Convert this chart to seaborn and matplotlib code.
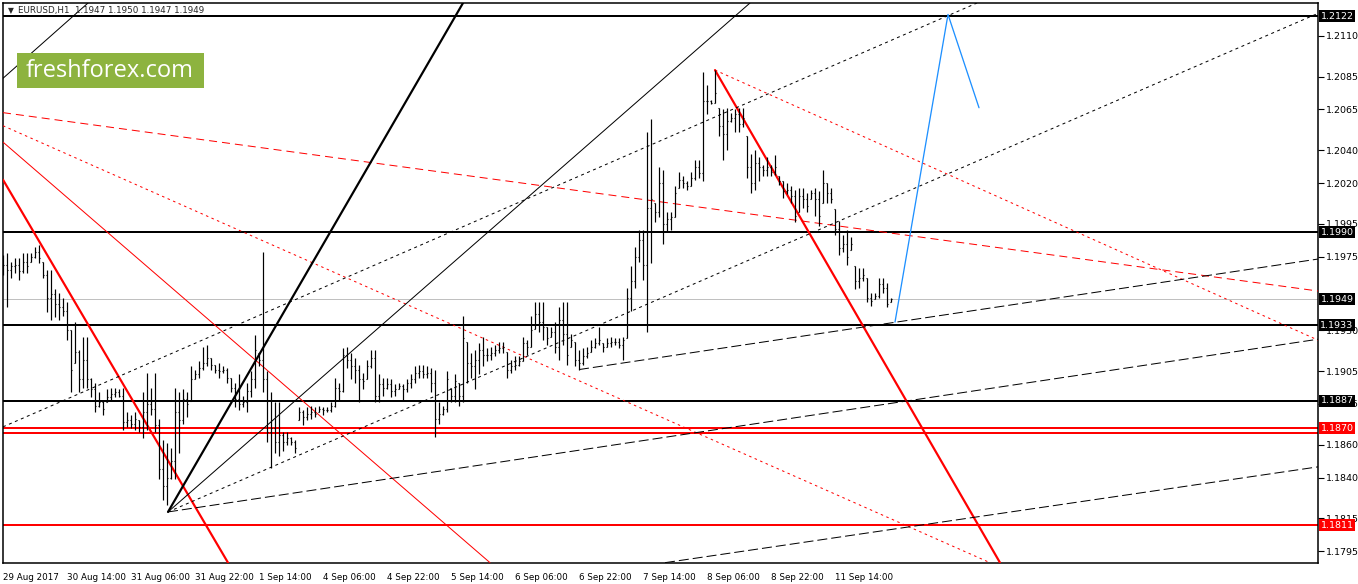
import numpy as np
import matplotlib
matplotlib.use('Agg')
import matplotlib.pyplot as plt
import matplotlib.transforms as mtransforms
from matplotlib.patches import Rectangle
import seaborn as sns

# EURUSD H1 bars (one per hour, weekend gaps removed)
highs = [
    1.1976, 1.1977, 1.1972, 1.1974, 1.1974, 1.1977, 1.1977, 1.1977, 1.1981, 1.1982,
    1.1972, 1.1967, 1.1967, 1.1955, 1.1953, 1.1950, 1.1947, 1.1930, 1.1935, 1.1918,
    1.1926, 1.1926, 1.1901, 1.1898, 1.1892, 1.1887, 1.1894, 1.1895, 1.1895, 1.1894,
    1.1895, 1.1880, 1.1878, 1.1880, 1.1875, 1.1892, 1.1904, 1.1895, 1.1904, 1.1876,
    1.1863, 1.1861, 1.1858, 1.1895, 1.1892, 1.1894, 1.1892, 1.1908, 1.1906, 1.1911,
    1.1920, 1.1921, 1.1913, 1.1909, 1.1910, 1.1908, 1.1907, 1.1901, 1.1898, 1.1903,
    1.1890, 1.1898, 1.1905, 1.1927, 1.1916, 1.1978, 1.1905, 1.1892, 1.1886, 1.1886,
    1.1868, 1.1868, 1.1865, 1.1863, 1.1883, 1.1881, 1.1883, 1.1884, 1.1883, 1.1884,
    1.1883, 1.1883, 1.1886, 1.1901, 1.1898, 1.1919, 1.1920, 1.1916, 1.1913, 1.1909,
    1.1904, 1.1912, 1.1918, 1.1918, 1.1903, 1.1901, 1.1901, 1.1900, 1.1897, 1.1898,
    1.1897, 1.1900, 1.1903, 1.1908, 1.1909, 1.1909, 1.1908, 1.1907, 1.1906, 1.1886,
    1.1884, 1.1905, 1.1895, 1.1903, 1.1898, 1.1939, 1.1923, 1.1916, 1.1918, 1.1922,
    1.1926, 1.1919, 1.1920, 1.1921, 1.1923, 1.1923, 1.1917, 1.1912, 1.1914, 1.1914,
    1.1926, 1.1924, 1.1939, 1.1947, 1.1947, 1.1947, 1.1932, 1.1932, 1.1935, 1.1944,
    1.1947, 1.1947, 1.1928, 1.1923, 1.1918, 1.1919, 1.1920, 1.1924, 1.1925, 1.1932,
    1.1922, 1.1925, 1.1926, 1.1925, 1.1925, 1.1926, 1.1956, 1.1969, 1.1981, 1.1991,
    1.1991, 1.2051, 1.2059, 1.2008, 1.2030, 1.2028, 1.2002, 1.2002, 1.2018, 1.2027,
    1.2024, 1.2021, 1.2027, 1.2034, 1.2034, 1.2088, 1.2080, 1.2071, 1.2089, 1.2066,
    1.2065, 1.2066, 1.2063, 1.2065, 1.2066, 1.2066, 1.2049, 1.2038, 1.2040, 1.2036,
    1.2031, 1.2036, 1.2031, 1.2037, 1.2024, 1.2021, 1.2020, 1.2018, 1.2016, 1.2017,
    1.2017, 1.2014, 1.2016, 1.2017, 1.2015, 1.2028, 1.2020, 1.2017, 1.2004, 1.1997,
    1.1988, 1.1991, 1.1987, 1.1969, 1.1968, 1.1968, 1.1962, 1.1953, 1.1953, 1.1962,
    1.1962, 1.1959, 1.1950,
]
lows = [
    1.1964, 1.1944, 1.1962, 1.1965, 1.1961, 1.1965, 1.1965, 1.1972, 1.1974, 1.1971,
    1.1962, 1.1941, 1.1936, 1.1938, 1.1936, 1.1939, 1.1924, 1.1892, 1.1910, 1.1892,
    1.1895, 1.1895, 1.1889, 1.1880, 1.1883, 1.1878, 1.1886, 1.1887, 1.1889, 1.1889,
    1.1869, 1.1871, 1.1870, 1.1869, 1.1868, 1.1864, 1.1869, 1.1878, 1.1868, 1.1839,
    1.1826, 1.1823, 1.1839, 1.1839, 1.1855, 1.1873, 1.1877, 1.1887, 1.1900, 1.1901,
    1.1906, 1.1908, 1.1906, 1.1904, 1.1901, 1.1904, 1.1898, 1.1892, 1.1883, 1.1881,
    1.1883, 1.1880, 1.1889, 1.1895, 1.1908, 1.1892, 1.1862, 1.1846, 1.1855, 1.1853,
    1.1856, 1.1860, 1.1860, 1.1855, 1.1875, 1.1872, 1.1875, 1.1876, 1.1877, 1.1880,
    1.1878, 1.1880, 1.1880, 1.1883, 1.1887, 1.1892, 1.1907, 1.1900, 1.1898, 1.1886,
    1.1894, 1.1900, 1.1907, 1.1886, 1.1886, 1.1890, 1.1894, 1.1889, 1.1890, 1.1894,
    1.1887, 1.1892, 1.1895, 1.1898, 1.1901, 1.1901, 1.1901, 1.1892, 1.1865, 1.1873,
    1.1878, 1.1880, 1.1886, 1.1886, 1.1884, 1.1886, 1.1898, 1.1901, 1.1894, 1.1903,
    1.1908, 1.1911, 1.1912, 1.1914, 1.1916, 1.1916, 1.1901, 1.1904, 1.1906, 1.1908,
    1.1911, 1.1915, 1.1920, 1.1931, 1.1929, 1.1924, 1.1921, 1.1926, 1.1916, 1.1912,
    1.1921, 1.1909, 1.1920, 1.1908, 1.1906, 1.1909, 1.1913, 1.1917, 1.1919, 1.1921,
    1.1917, 1.1920, 1.1920, 1.1921, 1.1919, 1.1912, 1.1925, 1.1942, 1.1956, 1.1972,
    1.1961, 1.1929, 1.1971, 1.1996, 1.1999, 1.1983, 1.1990, 1.1991, 1.1999, 1.2017,
    1.2017, 1.2016, 1.2018, 1.2022, 1.2023, 1.2021, 1.2062, 1.2068, 1.2069, 1.2049,
    1.2034, 1.2040, 1.2057, 1.2051, 1.2051, 1.2054, 1.2023, 1.2014, 1.2016, 1.2021,
    1.2024, 1.2024, 1.2024, 1.2025, 1.2019, 1.2011, 1.2013, 1.2008, 1.1996, 1.2002,
    1.2005, 1.2002, 1.2010, 1.2000, 1.1994, 1.2008, 1.2008, 1.2008, 1.1988, 1.1976,
    1.1978, 1.1970, 1.1979, 1.1955, 1.1956, 1.1960, 1.1947, 1.1945, 1.1949, 1.1950,
    1.1953, 1.1944, 1.1947,
]
closes = [
    1.1970, 1.1967, 1.1969, 1.1970, 1.1966, 1.1972, 1.1969, 1.1975, 1.1978, 1.1974,
    1.1964, 1.1950, 1.1952, 1.1946, 1.1944, 1.1942, 1.1930, 1.1906, 1.1917, 1.1900,
    1.1912, 1.1900, 1.1894, 1.1884, 1.1886, 1.1882, 1.1889, 1.1891, 1.1892, 1.1890,
    1.1874, 1.1875, 1.1873, 1.1876, 1.1871, 1.1880, 1.1885, 1.1882, 1.1872, 1.1845,
    1.1835, 1.1840, 1.1850, 1.1880, 1.1875, 1.1888, 1.1885, 1.1900, 1.1903, 1.1907,
    1.1910, 1.1913, 1.1909, 1.1906, 1.1905, 1.1906, 1.1901, 1.1895, 1.1888, 1.1885,
    1.1886, 1.1893, 1.1900, 1.1918, 1.1912, 1.1900, 1.1868, 1.1870, 1.1862, 1.1866,
    1.1862, 1.1864, 1.1862, 1.1858, 1.1880, 1.1877, 1.1879, 1.1880, 1.1879, 1.1882,
    1.1881, 1.1881, 1.1884, 1.1895, 1.1893, 1.1915, 1.1912, 1.1908, 1.1906, 1.1900,
    1.1899, 1.1908, 1.1913, 1.1890, 1.1897, 1.1895, 1.1897, 1.1893, 1.1894, 1.1896,
    1.1894, 1.1898, 1.1900, 1.1904, 1.1905, 1.1903, 1.1904, 1.1898, 1.1876, 1.1879,
    1.1882, 1.1900, 1.1890, 1.1899, 1.1890, 1.1925, 1.1910, 1.1908, 1.1912, 1.1918,
    1.1915, 1.1915, 1.1916, 1.1918, 1.1919, 1.1920, 1.1906, 1.1908, 1.1909, 1.1911,
    1.1922, 1.1920, 1.1930, 1.1940, 1.1935, 1.1932, 1.1925, 1.1929, 1.1920, 1.1936,
    1.1928, 1.1915, 1.1924, 1.1912, 1.1910, 1.1914, 1.1916, 1.1920, 1.1922, 1.1924,
    1.1920, 1.1922, 1.1923, 1.1923, 1.1921, 1.1924, 1.1950, 1.1960, 1.1975, 1.1985,
    1.1970, 1.2005, 1.2010, 1.2002, 1.2020, 1.1995, 1.1998, 1.1999, 1.2014, 1.2022,
    1.2020, 1.2018, 1.2023, 1.2030, 1.2026, 1.2070, 1.2070, 1.2069, 1.2075, 1.2055,
    1.2050, 1.2058, 1.2060, 1.2062, 1.2056, 1.2060, 1.2030, 1.2020, 1.2032, 1.2030,
    1.2028, 1.2030, 1.2027, 1.2030, 1.2021, 1.2015, 1.2016, 1.2012, 1.2000, 1.2012,
    1.2010, 1.2006, 1.2014, 1.2010, 1.2000, 1.2020, 1.2014, 1.2010, 1.1992, 1.1980,
    1.1983, 1.1975, 1.1983, 1.1960, 1.1962, 1.1964, 1.1950, 1.1948, 1.1951, 1.1958,
    1.1956, 1.1946, 1.1949,
]
first_open = 1.1972

tick_bars = [0, 16, 32, 48, 64, 80, 96, 112, 128, 144, 160, 176, 192, 208]
tick_labels = ['29 Aug 2017', '30 Aug 14:00', '31 Aug 06:00', '31 Aug 22:00',
               '1 Sep 14:00', '4 Sep 06:00', '4 Sep 22:00', '5 Sep 14:00',
               '6 Sep 06:00', '6 Sep 22:00', '7 Sep 14:00', '8 Sep 06:00',
               '8 Sep 22:00', '11 Sep 14:00']
price_ticks = [1.2110, 1.2085, 1.2065, 1.2040, 1.2020, 1.1995, 1.1975,
               1.1930, 1.1905, 1.1885, 1.1860, 1.1840, 1.1815, 1.1795]

black_levels = [1.2122, 1.1990, 1.1933, 1.1887]
red_levels = [1.1870, 1.1867, 1.1811]
bid = 1.1949
black_boxes = [1.2122, 1.1990, 1.1949, 1.1933, 1.1887]
red_boxes = [1.1870, 1.1811]

# analyst drawings: (bars, prices)
red_thick_a = ([0, 56.25], [1.2022, 1.1788])
red_thick_b = ([178, 249.25], [1.2089, 1.1788])
red_thin = ([0, 121.75], [1.2045, 1.1788])
red_dot_a = ([0, 246.75], [1.2055, 1.1788])
red_dot_b = ([178, 328.75], [1.2089, 1.1924])
red_dash = ([0, 328.75], [1.2063, 1.1954])
black_thick = ([41.25, 115], [1.1819, 1.2130])
black_thin_a = ([41.25, 186.75], [1.1819, 1.2130])
black_thin_b = ([0, 21.25], [1.2084, 1.2130])
black_dot_a = ([0, 243.5], [1.1871, 1.2130])
black_dot_b = ([41.25, 330], [1.1819, 1.2125])
black_dash_a = ([41.25, 330], [1.1819, 1.1925])
black_dash_b = ([144, 330], [1.1906, 1.1974])
black_dash_c = ([165.5, 330], [1.1788, 1.1847])
forecast = ([223, 236.25, 244], [1.1935, 1.2123, 1.2066])

sns.set_style('white')
plt.rcParams['font.family'] = ['DejaVu Sans']

W, H = 1358, 584
fig = plt.figure(figsize=(W / 100, H / 100), dpi=100)
ax = fig.add_axes([3 / W, 21 / H, 1315 / W, 560 / H])
ax.set_xlim(0, 328.75)
ax.set_ylim(1.17878, 1.21300)

px = 0.72  # one pixel in points

# horizontal levels
ax.axhline(bid, color='#c0c0c0', lw=px, zorder=1)
for lv in black_levels:
    ax.axhline(lv, color='black', lw=2 * px, zorder=2)
for lv in red_levels:
    ax.axhline(lv, color='red', lw=2 * px, zorder=2)


def trend(line, color, lw, ls='-'):
    sns.lineplot(x=line[0], y=line[1], color=color, lw=lw, ls=ls,
                 sort=False, estimator=None, ax=ax, zorder=3)


dot = (0, (3, 3.5))
rdot = (0, (2.5, 3.5))
dash = (0, (10, 4))
rdash = (0, (8, 5))

trend(red_thick_a, 'red', 2.2 * px)
trend(red_thick_b, 'red', 2.2 * px)
trend(red_thin, 'red', px)
trend(red_dot_a, 'red', px, rdot)
trend(red_dot_b, 'red', px, rdot)
trend(red_dash, 'red', px, rdash)
trend(black_thick, 'black', 2.2 * px)
trend(black_thin_a, 'black', px)
trend(black_thin_b, 'black', px)
trend(black_dot_a, 'black', px, dot)
trend(black_dot_b, 'black', px, dot)
trend(black_dash_a, 'black', px, dash)
trend(black_dash_b, 'black', px, dash)
trend(black_dash_c, 'black', px, dash)
trend(forecast, '#1e90ff', 1.3 * px)

# OHLC bars
bars = np.arange(len(closes))
opens = np.clip(np.r_[first_open, closes[:-1]], lows, highs)
ax.vlines(bars, lows, highs, color='black', lw=1.2 * px, zorder=4)
ax.hlines(closes, bars, bars + 0.35, color='black', lw=1.1 * px, zorder=4)
ax.hlines(opens, bars - 0.35, bars, color='black', lw=1.1 * px, zorder=4)

# axes styling
for s in ax.spines.values():
    s.set_color('black')
    s.set_linewidth(1.1)
ax.set_xticks(tick_bars)
ax.set_xticklabels(tick_labels, fontsize=6.3, ha='left')
ax.yaxis.tick_right()
ax.set_yticks(price_ticks)
ax.set_yticklabels([f'{p:.4f}' for p in price_ticks], fontsize=6.8)
ax.tick_params(axis='both', direction='out', length=4, width=0.8, colors='black', pad=2)
ax.tick_params(axis='x', pad=3)
ax.set_xlabel('')
ax.set_ylabel('')

# price label boxes
tr = mtransforms.blended_transform_factory(fig.transFigure, ax.transData)
bh = 12 * (1.21300 - 1.17878) / 560
for lv, fc in [(v, 'black') for v in black_boxes] + [(v, 'red') for v in red_boxes]:
    ax.add_patch(Rectangle((1319 / W, lv - bh / 2), 36 / W, bh, transform=tr,
                           facecolor=fc, edgecolor='none', clip_on=False, zorder=10))
    ax.text(1337 / W, lv, f'{lv:.4f}', transform=tr, color='white', fontsize=6.8,
            ha='center', va='center', clip_on=False, zorder=11)

# header and watermark
fig.text(8 / W, 1 - 11 / H, '\u25bc', fontsize=5.5, va='center', ha='left')
fig.text(18 / W, 1 - 11 / H, 'EURUSD,H1  1.1947 1.1950 1.1947 1.1949',
         fontsize=6.3, va='center', ha='left')
fig.patches.append(Rectangle((17 / W, 1 - 88 / H), 187 / W, 35 / H,
                             transform=fig.transFigure, facecolor='#8db33f',
                             edgecolor='none', zorder=20))
fig.text(110 / W, 1 - 71 / H, 'freshforex.com', color='white', fontsize=17,
         family=['Open Sans', 'DejaVu Sans'], ha='center', va='center', zorder=21)

fig.savefig('out.png', dpi=100)
